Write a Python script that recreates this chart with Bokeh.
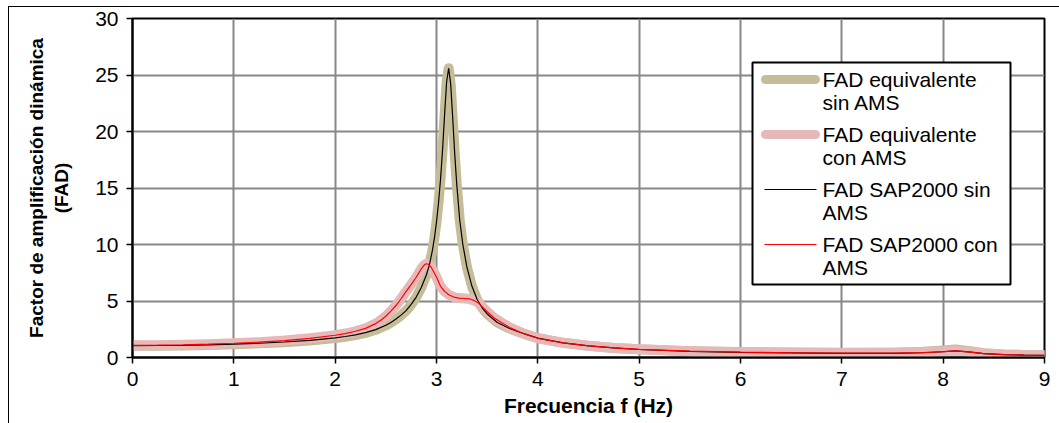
from bokeh.plotting import figure
from bokeh.models import FixedTicker, BoxAnnotation, Range1d, InlineStyleSheet
from bokeh.core.properties import value
from bokeh.embed import file_html
from bokeh.resources import INLINE

# Frequency axis (Hz) for the structure without the tuned mass damper
freq_sin = [0.0, 0.25, 0.5, 0.75, 1.0, 1.25, 1.5, 1.75, 2.0, 2.1, 2.2, 2.3, 2.4,
            2.5, 2.55, 2.6, 2.65, 2.7, 2.75, 2.8, 2.85, 2.9, 2.93, 2.96, 2.98, 3.0,
            3.02, 3.04, 3.06, 3.08, 3.1, 3.12, 3.14, 3.16, 3.18, 3.2, 3.23, 3.26,
            3.3, 3.35, 3.4, 3.45, 3.5, 3.6, 3.7, 3.8, 3.9, 4.0, 4.25, 4.5, 4.75, 5.0,
            5.5, 6.0, 6.5, 7.0, 7.5, 7.8, 8.0, 8.12, 8.25, 8.4, 8.6, 8.8, 9.0]
# Dynamic amplification factor, SAP2000 model without AMS
fad_sap_sin = [1.05, 1.06, 1.08, 1.12, 1.18, 1.26, 1.37, 1.52, 1.74, 1.86, 2.0, 2.2,
               2.47, 2.85, 3.1, 3.4, 3.75, 4.15, 4.7, 5.35, 6.2, 7.3, 8.2, 9.5, 10.6,
               12.0, 13.7, 15.8, 18.4, 21.5, 24.4, 25.6, 24.2, 21.2, 18.0, 15.3, 12.1,
               10.0, 8.0, 6.3, 5.15, 4.4, 3.85, 3.1, 2.65, 2.3, 2.0, 1.72, 1.3, 1.03,
               0.85, 0.71, 0.55, 0.46, 0.41, 0.37, 0.37, 0.42, 0.51, 0.58, 0.5, 0.34,
               0.25, 0.21, 0.2]
# Dynamic amplification factor, equivalent model without AMS
fad_eq_sin = [1.04, 1.05, 1.07, 1.11, 1.17, 1.25, 1.36, 1.51, 1.72, 1.84, 1.98, 2.18,
              2.45, 2.83, 3.08, 3.38, 3.73, 4.13, 4.68, 5.33, 6.2, 7.3, 8.2, 9.5, 10.6,
              12.0, 13.7, 15.8, 18.4, 21.5, 24.4, 25.6, 24.2, 21.2, 18.0, 15.3, 12.1,
              10.0, 8.0, 6.3, 5.15, 4.4, 3.85, 3.1, 2.65, 2.3, 2.0, 1.72, 1.3, 1.03,
              0.85, 0.72, 0.56, 0.48, 0.44, 0.41, 0.43, 0.5, 0.62, 0.7, 0.58, 0.38,
              0.27, 0.22, 0.21]

# Frequency axis (Hz) for the structure with the tuned mass damper
freq_con = [0.0, 0.25, 0.5, 0.75, 1.0, 1.25, 1.5, 1.75, 2.0, 2.1, 2.2, 2.3, 2.4,
            2.45, 2.5, 2.55, 2.6, 2.65, 2.7, 2.75, 2.8, 2.85, 2.88, 2.9, 2.92, 2.95,
            2.98, 3.0, 3.04, 3.08, 3.12, 3.17, 3.22, 3.28, 3.33, 3.37, 3.41, 3.45,
            3.5, 3.57, 3.64, 3.73, 3.85, 4.0, 4.25, 4.5, 4.75, 5.0, 5.5, 6.0, 6.5,
            7.0, 7.5, 7.8, 8.0, 8.12, 8.25, 8.4, 8.6, 8.8, 9.0]
# Dynamic amplification factor, SAP2000 model with AMS
fad_sap_con = [1.08, 1.09, 1.12, 1.18, 1.26, 1.36, 1.5, 1.7, 1.97, 2.12, 2.32, 2.58,
               3.0, 3.3, 3.65, 4.1, 4.6, 5.2, 5.85, 6.45, 7.1, 7.85, 8.2, 8.3, 8.25,
               7.95, 7.45, 7.1, 6.3, 5.85, 5.55, 5.35, 5.26, 5.22, 5.18, 5.05, 4.85,
               4.5, 4.05, 3.5, 3.1, 2.62, 2.15, 1.7, 1.3, 1.04, 0.85, 0.72, 0.56, 0.47,
               0.42, 0.38, 0.38, 0.43, 0.52, 0.58, 0.5, 0.34, 0.25, 0.21, 0.2]
# Dynamic amplification factor, equivalent model with AMS
fad_eq_con = [1.08, 1.09, 1.12, 1.18, 1.26, 1.36, 1.5, 1.7, 1.97, 2.12, 2.32, 2.58,
              3.0, 3.3, 3.65, 4.1, 4.6, 5.2, 5.85, 6.45, 7.1, 7.85, 8.2, 8.3, 8.25,
              7.95, 7.45, 7.1, 6.3, 5.85, 5.55, 5.35, 5.26, 5.22, 5.18, 5.05, 4.85,
              4.5, 4.05, 3.5, 3.1, 2.62, 2.15, 1.7, 1.3, 1.04, 0.85, 0.72, 0.56, 0.47,
              0.43, 0.4, 0.41, 0.46, 0.55, 0.6, 0.52, 0.36, 0.26, 0.22, 0.21]

x_ticks = [0, 1, 2, 3, 4, 5, 6, 7, 8, 9]
y_ticks = [0, 5, 10, 15, 20, 25, 30]

legend_labels = ["FAD equivalente\nsin AMS", "FAD equivalente\ncon AMS",
                 "FAD SAP2000 sin\nAMS", "FAD SAP2000 con\nAMS"]

FONT = "Liberation Sans"
W, H = 1059, 423
LEFT, RIGHT, TOP, BOTTOM = 132, 15, 18, 66
X0, X1, Y0, Y1 = 0, 9, 0, 30

p = figure(width=W, height=H, output_backend="svg", toolbar_location=None,
           x_range=Range1d(X0, X1), y_range=Range1d(Y0, Y1),
           min_border_left=LEFT, min_border_right=RIGHT,
           min_border_top=TOP, min_border_bottom=BOTTOM,
           background_fill_color="white", border_fill_color=None)

# outer chart-area frame (left and top edges)
p.stylesheets = [InlineStyleSheet(css=(
    ":host { background:"
    " linear-gradient(#000,#000) 8px 6px / 1px 100% no-repeat,"
    " linear-gradient(#000,#000) 8px 6px / 100% 1px no-repeat,"
    " #ffffff; }"))]

p.outline_line_color = "black"
p.outline_line_width = 2

for ax in (p.xaxis[0], p.yaxis[0]):
    ax.axis_line_color = "black"
    ax.axis_line_width = 2
    ax.major_tick_line_color = "black"
    ax.major_tick_line_width = 1.5
    ax.major_tick_in = 0
    ax.major_tick_out = 6
    ax.minor_tick_line_color = None
    ax.major_label_text_font = FONT
    ax.major_label_text_font_size = "21px"
    ax.major_label_text_color = "black"
    ax.axis_label_text_font = FONT
    ax.axis_label_text_font_style = "bold"
    ax.axis_label_text_color = "black"

p.xaxis.ticker = FixedTicker(ticks=x_ticks)
p.yaxis.ticker = FixedTicker(ticks=y_ticks)
p.xaxis.axis_label = "Frecuencia f (Hz)"
p.xaxis.axis_label_text_font_size = "21px"
p.xaxis.major_label_standoff = 8
p.xaxis.axis_label_standoff = 5
p.yaxis.axis_label = "Factor de amplificación dinámica\n(FAD)"
p.yaxis.axis_label_text_font_size = "19px"
p.yaxis.major_label_standoff = 8
p.yaxis.axis_label_standoff = 20

# interior grid lines only; the frame edges are drawn by the outline
p.xgrid.ticker = FixedTicker(ticks=x_ticks[1:-1])
p.ygrid.ticker = FixedTicker(ticks=y_ticks[1:-1])
for g in (p.xgrid[0], p.ygrid[0]):
    g.grid_line_color = "#878787"
    g.grid_line_width = 2

KHAKI = "#C4BD97"
PINK = "#E6B9B8"

p.line(freq_sin, fad_eq_sin, line_color=KHAKI, line_width=10,
       line_join="round", line_cap="round")
p.line(freq_con, fad_eq_con, line_color=PINK, line_width=10,
       line_join="round", line_cap="round")
p.line(freq_sin, fad_sap_sin, line_color="black", line_width=1.2)
p.line(freq_con, fad_sap_con, line_color="#FF0000", line_width=1.2)

# legend drawn inside the frame; pixel layout converted to data units
frame_w = W - LEFT - RIGHT
frame_h = H - TOP - BOTTOM


def sx(px):
    return X0 + (px - LEFT) / frame_w * (X1 - X0)


def sy(py):
    return Y1 - (py - TOP) / frame_h * (Y1 - Y0)


p.add_layout(BoxAnnotation(left=sx(752), right=sx(1010), top=sy(62), bottom=sy(284),
                           fill_color="white", fill_alpha=1.0,
                           line_color="black", line_alpha=1.0, line_width=2,
                           level="annotation"))

styles = [(KHAKI, 9), (PINK, 9), ("black", 1.2), ("#FF0000", 1.2)]
first_rows = [79, 134, 189, 244]
for (col, lw), row, lab in zip(styles, first_rows, legend_labels):
    x_start, x_end = (764, 816) if lw < 5 else (765, 815)
    p.line([sx(x_start), sx(x_end)], [sy(row), sy(row)], line_color=col,
           line_width=lw, line_cap="round" if lw > 5 else "butt",
           level="overlay")
    lines = lab.split("\n")
    p.text(x=[sx(822)] * len(lines), y=[sy(row + 22.5 * i) for i in range(len(lines))],
           text=lines, text_font=value(FONT), text_font_size="21px",
           text_color="black", text_baseline="middle", text_align="left",
           level="overlay")

open("out.html", "w").write(file_html(p, INLINE))
